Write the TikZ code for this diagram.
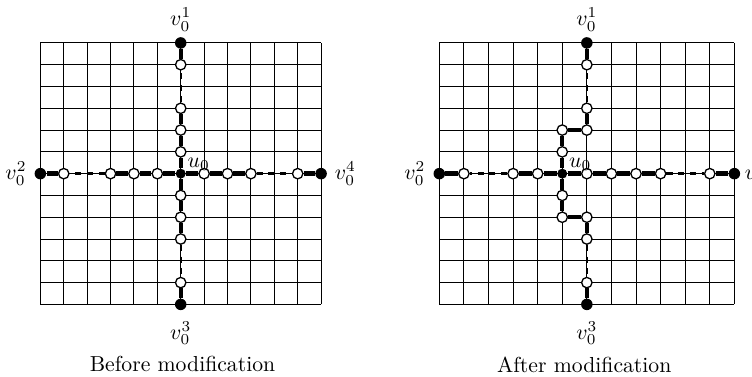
\documentclass[tikz,border=0pt]{standalone}
\usepackage{amssymb}
\usepackage{tikz}
\usetikzlibrary{positioning}

\tikzset{
  gridline/.style={line width=0.45pt},
  bond/.style={line width=2pt},
  gapline/.style={line width=1.1pt, dash pattern=on 2.8pt off 2.6pt},
  endpt/.style={circle, fill=black, inner sep=0pt, minimum size=5.3pt},
  freept/.style={circle, draw, fill=white, line width=0.6pt, inner sep=0pt, minimum size=4.8pt},
  hub/.style={circle, fill=black, inner sep=0pt, minimum size=4.6pt}
}

\begin{document}
\begin{tikzpicture}[node distance=0pt]
\useasboundingbox (0,0) rectangle (346.5pt,173.7pt);
\begin{scope}[shift={(83.27pt,93.68pt)}, x=10.78pt, y=10.04pt]
 \draw[gridline, step=1] (-6,-6) grid (6,6);
 \node[hub] (bu) at (0,0) {};
 \foreach \arm/\dx/\dy in {n/0/1, s/0/-1, w/-1/0, e/1/0} {
   \foreach \k in {1,2,3,5}
     \node[freept] (b\arm\k) at (\k*\dx,\k*\dy) {};
   \node[endpt] (b\arm6) at (6*\dx,6*\dy) {};
   \draw[bond] (bu) -- (b\arm1) -- (b\arm2) -- (b\arm3);
   \draw[gapline] (b\arm3) -- (b\arm5);
   \draw[bond] (b\arm5) -- (b\arm6);
 }
 \node[above=-1pt of bn6] (lbn) {$v_0^1$};
 \node[below=1.5pt of bs6] (lbs) {$v_0^3$};
 \node[left=of bw6] (lbw) {$v_0^2$};
 \node[right=of be6] (lbe) {$v_0^4$};
 \node[anchor=south west, inner sep=0.5pt] (lbu) at ([yshift=0.8pt]bu.east) {$u_0$};
\end{scope}
\begin{scope}[shift={(270.4pt,93.68pt)}, x=11.33pt, y=10.04pt]
 \draw[gridline, step=1] (-6,-6) grid (6,6);
 \node[hub] (au) at (-1,0) {};
 \foreach \arm/\s in {n/1, s/-1} {
   \node[freept] (a\arm1) at (-1,\s) {};
   \node[freept] (a\arm2) at (-1,2*\s) {};
   \node[freept] (a\arm3) at (0,2*\s) {};
   \node[freept] (a\arm4) at (0,3*\s) {};
   \node[freept] (a\arm5) at (0,5*\s) {};
   \node[endpt] (a\arm6) at (0,6*\s) {};
   \draw[bond] (au) -- (a\arm1) -- (a\arm2) -- (a\arm3) -- (a\arm4);
   \draw[gapline] (a\arm4) -- (a\arm5);
   \draw[bond] (a\arm5) -- (a\arm6);
 }
 \node[freept] (ae1) at (0,0) {};
 \node[freept] (ae2) at (1,0) {};
 \node[freept] (ae3) at (2,0) {};
 \node[freept] (ae4) at (3,0) {};
 \node[freept] (ae5) at (5,0) {};
 \node[endpt] (ae6) at (6,0) {};
 \node[freept] (aw1) at (-2,0) {};
 \node[freept] (aw2) at (-3,0) {};
 \node[freept] (aw3) at (-5,0) {};
 \node[endpt] (aw4) at (-6,0) {};
 \draw[bond] (au) -- (ae1) -- (ae2) -- (ae3) -- (ae4);
 \draw[gapline] (ae4) -- (ae5);
 \draw[bond] (ae5) -- (ae6);
 \draw[bond] (au) -- (aw1) -- (aw2);
 \draw[gapline] (aw2) -- (aw3);
 \draw[bond] (aw3) -- (aw4);
 \node[above=-1pt of an6] (lan) {$v_0^1$};
 \node[below=1.5pt of as6] (las) {$v_0^3$};
 \node[left=of aw4] (law) {$v_0^2$};
 \node[right=-1.5pt of ae6] (lae) {$v_0^4$};
 \node[anchor=south west, inner sep=0.5pt] (lau) at ([yshift=0.8pt]au.east) {$u_0$};
\end{scope}
\node (capb) at (84.1pt,6pt) {Before modification};
\node (capa) at (269.2pt,5.5pt) {After modification};
\end{tikzpicture}
\end{document}
